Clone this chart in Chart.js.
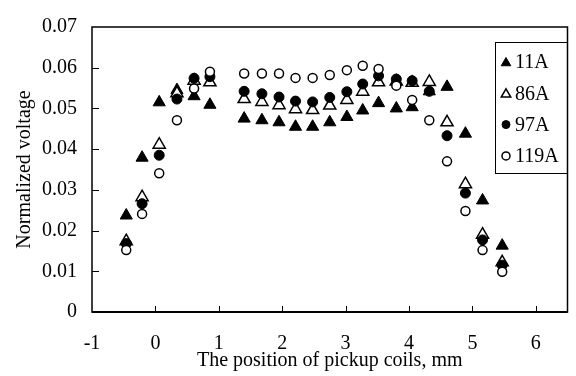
<!DOCTYPE html>
<html>
<head>
<meta charset="utf-8">
<script src="https://cdn.jsdelivr.net/npm/chart.js@4.4.1/dist/chart.umd.min.js"></script>
<style>
  html, body { margin: 0; padding: 0; background: #fff; }
  #wrap { width: 576px; height: 376px; }
</style>
</head>
<body>
<div id="wrap"><canvas id="coilChart" width="576" height="376"></canvas></div>
<script>
// pickup coil positions (mm)
const positions = [-0.46, -0.21, 0.06, 0.34, 0.61, 0.86, 1.40, 1.68, 1.95, 2.21, 2.48,
                   2.75, 3.02, 3.27, 3.52, 3.80, 4.05, 4.32, 4.60, 4.89, 5.16, 5.47];

// normalized voltage per current
const v11A  = [0.0237, 0.0379, 0.0515, 0.0545, 0.0530, 0.0509, 0.0475, 0.0471, 0.0466, 0.0455, 0.0455,
               0.0466, 0.0479, 0.0495, 0.0513, 0.0500, 0.0503, 0.0542, 0.0553, 0.0438, 0.0274, 0.0163];
const v86A  = [0.0174, 0.0282, 0.0411, 0.0537, 0.0568, 0.0564, 0.0523, 0.0516, 0.0508, 0.0498, 0.0496,
               0.0507, 0.0521, 0.0541, 0.0564, 0.0566, 0.0563, 0.0565, 0.0466, 0.0314, 0.0190, 0.0122];
const v97A  = [0.0168, 0.0266, 0.0385, 0.0523, 0.0574, 0.0578, 0.0542, 0.0536, 0.0528, 0.0518, 0.0516,
               0.0527, 0.0541, 0.0560, 0.0580, 0.0572, 0.0568, 0.0542, 0.0433, 0.0292, 0.0177, 0.0115];
const v119A = [0.0152, 0.0241, 0.0341, 0.0471, 0.0549, 0.0590, 0.0586, 0.0586, 0.0586, 0.0575, 0.0575,
               0.0582, 0.0594, 0.0605, 0.0597, 0.0556, 0.0521, 0.0471, 0.0370, 0.0248, 0.0152, 0.0099];

const seriesNames = ["11A", "86A", "97A", "119A"];
const xTickValues = [-1, 0, 1, 2, 3, 4, 5, 6];
const yTickLabels = ["0", "0.01", "0.02", "0.03", "0.04", "0.05", "0.06", "0.07"];

const FONT = "'Liberation Serif', 'Times New Roman', serif";

function pts(vals) {
  return positions.map((x, i) => ({ x: x, y: vals[i] }));
}

// marker looks: filled / open triangle, filled / open circle
const looks = [
  { pointStyle: "triangle", pointRadius: 7,   backgroundColor: "#000", borderColor: "#000", borderWidth: 1 },
  { pointStyle: "triangle", pointRadius: 7,   backgroundColor: "#fff", borderColor: "#000", borderWidth: 1.5 },
  { pointStyle: "circle",   pointRadius: 5,   backgroundColor: "#000", borderColor: "#000", borderWidth: 1 },
  { pointStyle: "circle",   pointRadius: 4.5, backgroundColor: "#fff", borderColor: "#000", borderWidth: 1.5 }
];

const datasets = [v11A, v86A, v97A, v119A].map((vals, i) => Object.assign({
  label: seriesNames[i],
  data: pts(vals),
  showLine: false,
  order: 4 - i
}, looks[i]));

function markerPath(c, style, x, y, r) {
  c.beginPath();
  if (style === "triangle") {
    c.moveTo(x, y - r);
    c.lineTo(x + r * 0.866, y + r / 2);
    c.lineTo(x - r * 0.866, y + r / 2);
    c.closePath();
  } else {
    c.arc(x, y, r, 0, Math.PI * 2);
  }
}

// frame, inward tick marks and boxed legend
const framePlugin = {
  id: "frame",
  afterDraw(chart) {
    const c = chart.ctx;
    const a = chart.chartArea;
    const xs = chart.scales.x, ys = chart.scales.y;
    c.save();
    c.strokeStyle = "#000";

    c.lineWidth = 1.5;
    c.strokeRect(a.left, a.top, a.right - a.left, a.bottom - a.top);
    c.lineWidth = 2;
    c.beginPath();
    c.moveTo(a.left, a.bottom);
    c.lineTo(a.right, a.bottom);
    c.stroke();

    c.lineWidth = 1;
    c.beginPath();
    xs.ticks.forEach(t => {
      const px = Math.round(xs.getPixelForValue(t.value)) + 0.5;
      if (px <= a.left + 2) return;
      c.moveTo(px, a.bottom);
      c.lineTo(px, a.bottom - 6);
    });
    ys.ticks.forEach(t => {
      const py = Math.round(ys.getPixelForValue(t.value)) + 0.5;
      if (py >= a.bottom - 2 || py <= a.top + 2) return;
      c.moveTo(a.left, py);
      c.lineTo(a.left + 7, py);
    });
    c.stroke();

    // legend box
    const lg = chart.options.plugins.frame;
    c.lineWidth = 1;
    c.strokeRect(lg.left + 0.5, lg.top + 0.5, lg.width, lg.height);
    c.font = "20px " + FONT;
    c.fillStyle = "#000";
    c.textBaseline = "middle";
    c.textAlign = "left";
    chart.data.datasets.forEach((ds, i) => {
      const y = lg.top + lg.firstRow + i * lg.rowGap;
      const r = ds.pointStyle === "triangle" ? 5.5 : 4;
      markerPath(c, ds.pointStyle, lg.left + 11, ds.pointStyle === "triangle" ? y + 1 : y, r);
      c.fillStyle = ds.backgroundColor;
      c.fill();
      c.lineWidth = ds.borderWidth;
      c.strokeStyle = ds.borderColor;
      c.stroke();
      c.fillStyle = "#000";
      c.fillText(ds.label, lg.left + 20, y + 1);
    });
    c.restore();
  }
};

new Chart(document.getElementById("coilChart"), {
  type: "scatter",
  data: { datasets: datasets },
  plugins: [framePlugin],
  options: {
    responsive: false,
    animation: false,
    layout: { padding: { left: 0, right: 5, top: 16, bottom: 0 } },
    plugins: {
      legend: { display: false },
      tooltip: { enabled: false },
      frame: { left: 495, top: 42, width: 72, height: 131, firstRow: 20, rowGap: 31.3 }
    },
    scales: {
      x: {
        type: "linear",
        min: -1,
        max: 6.5,
        afterBuildTicks: s => { s.ticks = xTickValues.map(v => ({ value: v })); },
        afterFit: s => { s.height = 64; },
        grid: { display: false, drawTicks: false },
        border: { display: false },
        ticks: { color: "#000", padding: 20, font: { family: FONT, size: 20 } },
        title: {
          display: true,
          text: "The position of pickup coils, mm",
          color: "#000",
          font: { family: FONT, size: 20 },
          padding: { top: 0, bottom: 3 }
        }
      },
      y: {
        min: 0,
        max: 0.07,
        ticks: {
          stepSize: 0.01,
          color: "#000",
          padding: 15,
          font: { family: FONT, size: 20 },
          callback: (v, i) => yTickLabels[i]
        },
        afterFit: s => { s.width = 92; },
        grid: { display: false, drawTicks: false },
        border: { display: false },
        title: {
          display: true,
          text: "Normalized voltage",
          color: "#000",
          font: { family: FONT, size: 20 },
          padding: { top: 13, bottom: 0 }
        }
      }
    }
  }
});
</script>
</body>
</html>
